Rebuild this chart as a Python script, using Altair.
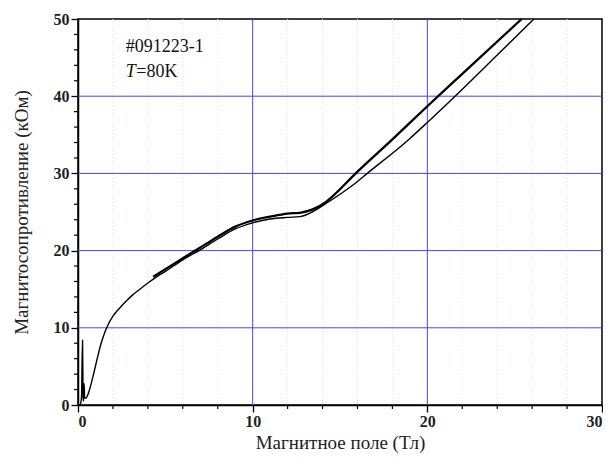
import altair as alt
import pandas as pd

# Branch A (thin): sweep starting at 0 T, ends lower at high field
a_x = [0.08, 0.15, 0.2, 0.26, 0.29, 0.32, 0.35, 0.38, 0.46, 0.59, 0.87, 1.1, 1.3, 1.5, 1.7,
       2.0, 2.4, 2.78, 3.1, 3.54, 4.0, 4.5, 5, 6, 7, 8, 9, 10, 11, 12, 12.7, 13.4, 14.2, 15.0,
       15.8, 16.56, 18.94, 20, 21.5, 23.9, 26.1]
a_y = [0, 0.2, 1.0, 8.4, 1.0, 0.5, 2.8, 0.9, 0.9, 1.5, 3.8, 6.0, 7.8, 9.2, 10.3,
       11.5, 12.6, 13.5, 14.2, 15.0, 15.8, 16.6, 17.3, 18.8, 20.1, 21.5, 22.8, 23.6, 24.1, 24.3,
       24.4, 25.0, 26.1, 27.3, 28.6, 30.0, 34.4, 36.6, 39.8, 45.1, 50.0]

# Branch B (thick): starts at 4.3 T, ends higher at high field
b_x = [4.3, 5, 6, 7, 8, 9, 10, 11, 12, 12.7, 13.4, 14.2, 14.56, 15.9, 18, 20, 22, 25.4]
b_y = [16.6, 17.6, 19.0, 20.4, 21.8, 23.1, 23.9, 24.4, 24.8, 24.9, 25.3, 26.3, 27.0, 30.0,
       34.4, 38.7, 42.9, 50.0]

x_major = [0, 10, 20, 30]
y_major = [0, 10, 20, 30, 40, 50]
x_minor = [2, 4, 6, 8, 12, 14, 16, 18, 22, 24, 26, 28]
y_minor = [2, 4, 6, 8, 12, 14, 16, 18, 22, 24, 26, 28, 32, 34, 36, 38, 42, 44, 46, 48]
grid_x = [10, 20]
grid_y = [10, 20, 30, 40]

W, H = 524, 386
FONT = "Liberation Serif"
BLUE = "#4646f0"

xs = alt.Scale(domain=[0, 30], nice=False, zero=False)
ys = alt.Scale(domain=[0, 50], nice=False, zero=False)

x_axis = alt.Axis(values=x_major, title="Магнитное поле (Тл)", grid=False,
                  tickSize=7, tickWidth=1.3, tickColor="black",
                  domainColor="black", domainWidth=1.5,
                  labelFont=FONT, labelFontSize=16, labelFontWeight="bold", labelColor="#222",
                  labelPadding=1, titleFont=FONT, titleFontSize=19, titleFontWeight="normal",
                  titleColor="#222", titlePadding=4)
y_axis = alt.Axis(values=y_major, title="Магнитосопротивление (кОм)", grid=False,
                  tickSize=7, tickWidth=1.3, tickColor="black",
                  domainColor="black", domainWidth=1.5,
                  labelFont=FONT, labelFontSize=16, labelFontWeight="bold", labelColor="#222",
                  labelPadding=2, titleFont=FONT, titleFontSize=19, titleFontWeight="normal",
                  titleColor="#222", titlePadding=22)

df_a = pd.DataFrame({"x": a_x, "y": a_y, "o": list(range(len(a_x)))})
df_b = pd.DataFrame({"x": b_x, "y": b_y, "o": list(range(len(b_x)))})

minor_grid = alt.Chart(pd.DataFrame({"v": x_minor})).mark_rule(
    color="#d6efd6", strokeWidth=1, strokeDash=[1, 2]
).encode(x=alt.X("v:Q", scale=xs, axis=x_axis))

vgrid = alt.Chart(pd.DataFrame({"v": grid_x})).mark_rule(color=BLUE, strokeWidth=1).encode(
    x=alt.X("v:Q", scale=xs))
hgrid = alt.Chart(pd.DataFrame({"v": grid_y})).mark_rule(color=BLUE, strokeWidth=1).encode(
    y=alt.Y("v:Q", scale=ys, axis=y_axis))

xminor_ticks = alt.Chart(pd.DataFrame({"v": x_minor})).mark_rule(
    color="black", strokeWidth=1.2).encode(
    x=alt.X("v:Q", scale=xs), y=alt.value(H), y2=alt.value(H + 4))
yminor_ticks = alt.Chart(pd.DataFrame({"v": y_minor})).mark_rule(
    color="black", strokeWidth=1.2).encode(
    y=alt.Y("v:Q", scale=ys), x=alt.value(0), x2=alt.value(-4))

line_a = alt.Chart(df_a).mark_line(color="black", strokeWidth=1.4, strokeJoin="round",
                                   interpolate="monotone").encode(
    x=alt.X("x:Q", scale=xs), y=alt.Y("y:Q", scale=ys), order="o:Q")
line_b = alt.Chart(df_b).mark_line(color="black", strokeWidth=2.3, strokeJoin="round",
                                   interpolate="monotone").encode(
    x=alt.X("x:Q", scale=xs), y=alt.Y("y:Q", scale=ys), order="o:Q")

label_x = [2.74]
label_y1 = [46.4]
label_y2 = [43.1]
t1 = alt.Chart(pd.DataFrame({"x": label_x, "y": label_y1, "t": ["#091223-1"]})).mark_text(
    font=FONT, fontSize=18, align="left", baseline="middle", color="#111").encode(
    x=alt.X("x:Q", scale=xs), y=alt.Y("y:Q", scale=ys), text="t:N")
t2a = alt.Chart(pd.DataFrame({"x": label_x, "y": label_y2, "t": ["T"]})).mark_text(
    font=FONT, fontSize=18, fontStyle="italic", align="left", baseline="middle", color="#111").encode(
    x=alt.X("x:Q", scale=xs), y=alt.Y("y:Q", scale=ys), text="t:N")
t2b = alt.Chart(pd.DataFrame({"x": label_x, "y": label_y2, "t": ["=80K"]})).mark_text(
    font=FONT, fontSize=18, align="left", baseline="middle", dx=10.5, color="#111").encode(
    x=alt.X("x:Q", scale=xs), y=alt.Y("y:Q", scale=ys), text="t:N")

chart = alt.layer(
    minor_grid, vgrid, hgrid, line_a, line_b, xminor_ticks, yminor_ticks, t1, t2a, t2b
).properties(
    width=W, height=H,
    autosize=alt.AutoSizeParams(type="none"),
    padding={"left": 70, "top": 11, "right": 1, "bottom": 48},
    background="white",
).configure_view(stroke="black", strokeWidth=1.5)

chart.save("out.html", embed_options={"renderer": "svg", "actions": False})
